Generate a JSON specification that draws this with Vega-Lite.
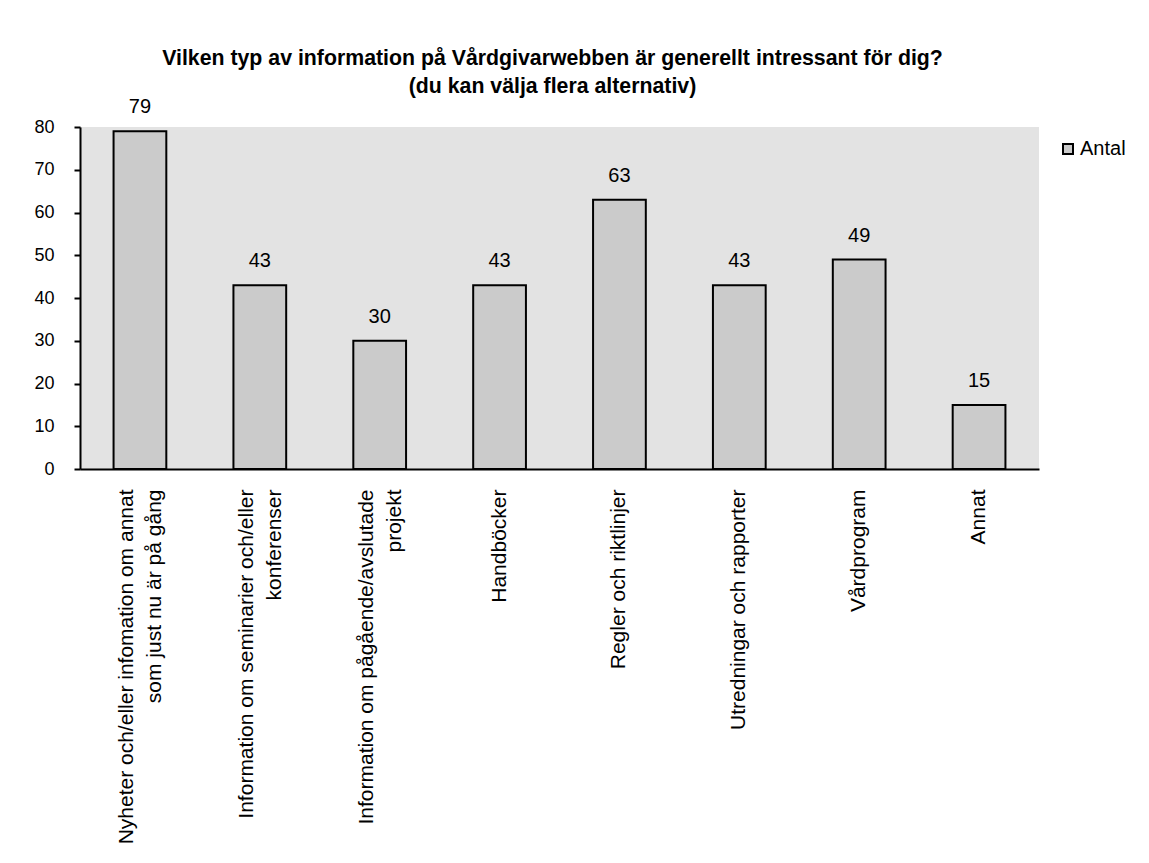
{
  "$schema": "https://vega.github.io/schema/vega-lite/v6.json",
  "autosize": {"type": "none"},
  "padding": {"left": 80, "top": 127, "right": 110, "bottom": 394},
  "width": 959,
  "height": 342,
  "background": "white",
  "title": {
    "text": ["Vilken typ av information på Vårdgivarwebben är generellt intressant för dig?", "(du kan välja flera alternativ)"],
    "font": "Liberation Sans",
    "fontSize": 21.3,
    "fontWeight": "bold",
    "lineHeight": 28,
    "color": "black",
    "anchor": "middle",
    "dx": -7,
    "offset": 0
  },
  "config": {
    "view": {"fill": "#E3E3E3", "stroke": null},
    "font": "Liberation Sans"
  },
  "data": {
    "values": [
      {"kategori": "Nyheter och/eller infomation om annat\nsom just nu är på gång", "antal": 79, "serie": "Antal"},
      {"kategori": "Information om seminarier och/eller\nkonferenser", "antal": 43, "serie": "Antal"},
      {"kategori": "Information om pågående/avslutade\nprojekt", "antal": 30, "serie": "Antal"},
      {"kategori": "Handböcker", "antal": 43, "serie": "Antal"},
      {"kategori": "Regler och riktlinjer", "antal": 63, "serie": "Antal"},
      {"kategori": "Utredningar och rapporter", "antal": 43, "serie": "Antal"},
      {"kategori": "Vårdprogram", "antal": 49, "serie": "Antal"},
      {"kategori": "Annat", "antal": 15, "serie": "Antal"}
    ]
  },
  "encoding": {
    "x": {
      "field": "kategori",
      "type": "nominal",
      "sort": null,
      "scale": {"paddingInner": 0.56, "paddingOuter": 0.28},
      "axis": {
        "title": null,
        "labelAngle": 270,
        "labelAlign": "right",
        "labelBaseline": "middle",
        "labelPadding": 20,
        "labelFontSize": 21,
        "labelLineHeight": 28,
        "labelLimit": 0,
        "labelColor": "black",
        "labelExpr": "split(datum.value, '\\n')",
        "labelOffset": {"condition": {"test": "indexof(datum.value, '\\n') >= 0", "value": -13}, "value": 0},
        "ticks": false,
        "domainColor": "black",
        "domainWidth": 2
      }
    },
    "y": {
      "field": "antal",
      "type": "quantitative",
      "scale": {"domain": [0, 80], "nice": false},
      "axis": {
        "title": null,
        "values": [0, 10, 20, 30, 40, 50, 60, 70, 80],
        "grid": false,
        "domainColor": "black",
        "domainWidth": 2,
        "tickColor": "black",
        "tickWidth": 2,
        "tickSize": 6,
        "labelPadding": 20,
        "labelFontSize": 18,
        "labelColor": "black"
      }
    }
  },
  "layer": [
    {
      "mark": {"type": "bar", "stroke": "black", "strokeWidth": 2},
      "encoding": {
        "color": {
          "field": "serie",
          "type": "nominal",
          "scale": {"domain": ["Antal"], "range": ["#CBCBCB"]},
          "legend": {
            "title": null,
            "orient": "none",
            "legendX": 978,
            "legendY": 12,
            "padding": 0,
            "symbolType": "square",
            "symbolSize": 100,
            "symbolStrokeColor": "black",
            "symbolStrokeWidth": 2,
            "labelFontSize": 20,
            "labelColor": "black",
            "labelOffset": 2
          }
        }
      }
    },
    {
      "mark": {"type": "text", "baseline": "alphabetic", "dy": -18, "fontSize": 20, "color": "black"},
      "encoding": {"text": {"field": "antal", "type": "quantitative"}}
    }
  ]
}
